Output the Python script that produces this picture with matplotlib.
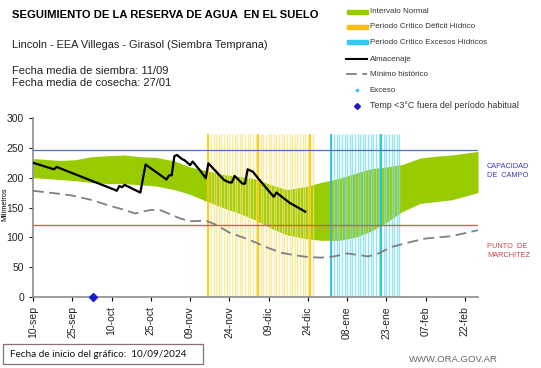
import matplotlib
matplotlib.use("Agg")
import matplotlib.pyplot as plt
from matplotlib.patches import Rectangle
import numpy as np

plt.rcParams['font.family'] = ['Liberation Sans', 'DejaVu Sans']

# days counted from 10-sep
tick_days = [0, 15, 30, 45, 60, 75, 90, 105, 120, 135, 150, 165]
tick_labels = ["10-sep", "25-sep", "10-oct", "25-oct", "09-nov", "24-nov",
               "09-dic", "24-dic", "08-ene", "23-ene", "07-feb", "22-feb"]

band_day = [0, 10, 16, 22, 29, 35, 41, 47, 54, 60, 66, 73, 79, 85, 91, 97,
            104, 110, 117, 123, 129, 135, 141, 148, 154, 160, 170]
band_upper = [232, 229, 230, 235, 237, 238, 235, 234, 228, 218, 212, 205, 202,
              198, 188, 180, 185, 192, 199, 207, 215, 218, 222, 233, 236, 238, 244]
band_lower = [200, 197, 195, 192, 190, 190, 188, 186, 180, 172, 161, 149, 140,
              129, 115, 104, 98, 95, 95, 100, 110, 125, 143, 157, 160, 163, 175]

alm_day = [0, 8, 9, 31, 32, 33, 34, 35, 41, 43, 51, 52, 53, 54, 55, 57, 58, 60,
           61, 64, 66, 67, 73, 75, 76, 77, 80, 81, 82, 84, 86, 90, 92, 93, 98,
           100, 104]
alm_val = [225, 214, 218, 180, 178, 186, 184, 188, 175, 222, 197, 204, 204, 236,
           238, 231, 229, 221, 227, 211, 199, 224, 196, 192, 192, 203, 190, 190,
           214, 210, 199, 178, 168, 175, 158, 153, 143]

min_day = [0, 10, 15, 22, 30, 35, 39, 45, 49, 56, 60, 66, 70, 75, 82, 90, 95,
           100, 105, 110, 115, 120, 125, 128, 132, 137, 145, 150, 160, 170]
min_val = [178, 173, 170, 163, 152, 146, 140, 146, 145, 132, 127, 128, 121, 108,
           97, 82, 74, 70, 67, 66, 68, 73, 70, 68, 73, 84, 93, 98, 102, 112]

deficit_days = list(range(67, 108))
deficit_strong = [67, 86, 106]
exceso_days = list(range(114, 141))
exceso_strong = [114, 133]
bar_height = 273

capacidad_campo = 247
punto_marchitez = 121
frio_day = [23]
frio_val = [0]

W, H = 541, 368
fig = plt.figure(figsize=(W / 100, H / 100), dpi=100)

ax = fig.add_axes([33 / W, 1 - 297 / H, 445 / W, 179 / H])
ax.fill_between(band_day, band_lower, band_upper, color="#99CC00", lw=0, zorder=1)
ax.vlines(deficit_days, 0, bar_height, color="#F8E27A", lw=1.0, alpha=0.75, zorder=2)
ax.vlines(deficit_strong, 0, bar_height, color="#FFC800", lw=1.2, zorder=2)
ax.vlines(exceso_days, 0, bar_height, color="#7FDCEF", lw=1.0, alpha=0.8, zorder=2)
ax.vlines(exceso_strong, 0, bar_height, color="#22B8E0", lw=1.2, zorder=2)
ax.axhline(capacidad_campo, color="#4F72C0", lw=0.9, zorder=3)
ax.axhline(punto_marchitez, color="#C8605C", lw=1.0, zorder=3)
ax.plot(min_day, min_val, color="#808080", lw=1.3, dashes=(6, 3), zorder=4)
ax.plot(alm_day, alm_val, color="black", lw=1.6, zorder=5)
ax.plot(frio_day, frio_val, marker="D", color="#1A1ACC", ms=4, ls="none",
        zorder=6, clip_on=False)

ax.set_xlim(0, 170)
ax.set_ylim(0, 300)
ax.set_xticks(tick_days)
ax.set_xticklabels(tick_labels, rotation=90, fontsize=7.5, color="#222222")
ax.set_yticks([0, 50, 100, 150, 200, 250, 300])
ax.tick_params(axis="y", labelsize=7.5, colors="#222222", length=3, width=0.8)
ax.tick_params(axis="x", length=3, width=0.8)
for s in ["top", "right"]:
    ax.spines[s].set_visible(False)
for s in ["left", "bottom"]:
    ax.spines[s].set_color("#8C8C8C")
    ax.spines[s].set_linewidth(1.2)
ax.set_ylabel("Milímetros", fontsize=5.2)
ax.yaxis.set_label_coords(-0.056, 0.52)
ax.patch.set_alpha(0)

# overlay in pixel coordinates for texts and legend
ov = fig.add_axes([0, 0, 1, 1], zorder=-1)
ov.set_xlim(0, W)
ov.set_ylim(H, 0)
ov.axis("off")

ov.text(12, 15, "SEGUIMIENTO DE LA RESERVA DE AGUA  EN EL SUELO", fontsize=8.1,
        fontweight="bold", va="center", ha="left")
ov.text(12, 45, "Lincoln - EEA Villegas - Girasol (Siembra Temprana)", fontsize=7.9,
        va="center", ha="left", color="#222222")
ov.text(12, 71.5, "Fecha media de siembra: 11/09", fontsize=8.0, va="center", color="#222222")
ov.text(12, 83.5, "Fecha media de cosecha: 27/01", fontsize=8.0, va="center", color="#222222")

leg_y = [11.7, 26.7, 42.3, 59.3, 74, 90, 106]
leg_txt = ["Intervalo Normal", "Periodo Crítico Déficit Hídrico",
           "Periodo Crítico Excesos Hídricos", "Almacenaje", "Mínimo histórico",
           "Exceso", "Temp <3°C fuera del período habitual"]
ov.add_patch(Rectangle((346.5, leg_y[0] - 2), 21, 4, color="#99CC00"))
ov.add_patch(Rectangle((346.5, leg_y[1] - 2), 21, 4, color="#FFC000"))
ov.add_patch(Rectangle((346.5, leg_y[2] - 2), 21, 4, color="#33C8F0"))
ov.plot([345.5, 367], [leg_y[3]] * 2, color="black", lw=1.5)
ov.plot([345.5, 367], [leg_y[4]] * 2, color="#808080", lw=1.3, dashes=(6, 3))
ov.plot([357.3], [leg_y[5]], marker="s", color="#33C8F0", ms=2)
ov.plot([357.3], [leg_y[6]], marker="D", color="#1A1ACC", ms=3)
for i, (y, t) in enumerate(zip(leg_y, leg_txt)):
    ov.text(369.5, y, t, fontsize=6.4 if i == 6 else 5.8, va="center",
            color="#333333")

ov.text(487, 171, "CAPACIDAD\nDE  CAMPO", fontsize=5.3, color="#3A3AB8",
        va="center", linespacing=1.25)
ov.text(487, 251, "PUNTO  DE\nMARCHITEZ", fontsize=5.3, color="#C04848",
        va="center", linespacing=1.25)

ov.add_patch(Rectangle((3, 344), 200, 20, fill=False, ec="#8A7070", lw=0.9))
ov.text(10, 354.5, "Fecha de inicio del gráfico:  10/09/2024", fontsize=7.2,
        va="center", family="Lato", color="#111111")
ov.text(498, 359, "WWW.ORA.GOV.AR", fontsize=6.8, ha="right", va="center",
        color="#666666")

fig.savefig("out.png", dpi=100)
